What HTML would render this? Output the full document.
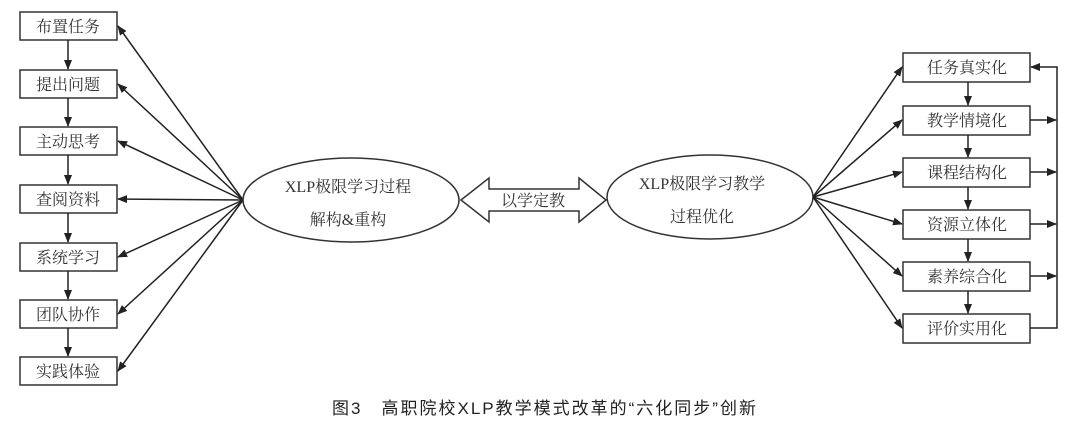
<!DOCTYPE html>
<html><head><meta charset="utf-8"><style>
html,body{margin:0;padding:0;background:#fff;}
svg{display:block;}
text{font-family:"Liberation Serif","Noto Serif CJK SC",serif;fill:#333;}
</style></head><body>
<svg width="1080" height="435" viewBox="0 0 1080 435" xmlns="http://www.w3.org/2000/svg">
<defs>
<marker id="a" markerWidth="10" markerHeight="8" refX="9" refY="4" orient="auto" markerUnits="userSpaceOnUse">
<path d="M0,0 L10,4 L0,8 z" fill="#222"/></marker>
</defs>
<g stroke="#333" stroke-width="1.5" fill="none">
<rect x="20" y="12" width="97" height="28" fill="#fff"/>
<rect x="20" y="70" width="97" height="28" fill="#fff"/>
<rect x="20" y="127" width="97" height="28" fill="#fff"/>
<rect x="20" y="185" width="97" height="28" fill="#fff"/>
<rect x="20" y="243" width="97" height="28" fill="#fff"/>
<rect x="20" y="300" width="97" height="28" fill="#fff"/>
<rect x="20" y="357" width="97" height="28" fill="#fff"/>
</g>
<g stroke="#222" stroke-width="1.5" fill="none">
<line x1="68" y1="40" x2="68" y2="69" marker-end="url(#a)"/>
<line x1="68" y1="98" x2="68" y2="126" marker-end="url(#a)"/>
<line x1="68" y1="155" x2="68" y2="184" marker-end="url(#a)"/>
<line x1="68" y1="213" x2="68" y2="242" marker-end="url(#a)"/>
<line x1="68" y1="271" x2="68" y2="299" marker-end="url(#a)"/>
<line x1="68" y1="328" x2="68" y2="356" marker-end="url(#a)"/>
<line x1="243" y1="200" x2="118" y2="26" marker-end="url(#a)"/>
<line x1="243" y1="200" x2="118" y2="84" marker-end="url(#a)"/>
<line x1="243" y1="200" x2="118" y2="141" marker-end="url(#a)"/>
<line x1="243" y1="200" x2="118" y2="199" marker-end="url(#a)"/>
<line x1="243" y1="200" x2="118" y2="257" marker-end="url(#a)"/>
<line x1="243" y1="200" x2="118" y2="314" marker-end="url(#a)"/>
<line x1="243" y1="200" x2="118" y2="371" marker-end="url(#a)"/>
</g>
<g font-size="16" text-anchor="middle">
<text x="68" y="32">布置任务</text>
<text x="68" y="90">提出问题</text>
<text x="68" y="147">主动思考</text>
<text x="68" y="205">查阅资料</text>
<text x="68" y="263">系统学习</text>
<text x="68" y="320">团队协作</text>
<text x="68" y="377">实践体验</text>
</g>
<ellipse cx="351" cy="200" rx="108" ry="42" fill="#fff" stroke="#333" stroke-width="1.5"/>
<ellipse cx="710" cy="197" rx="103" ry="42" fill="#fff" stroke="#333" stroke-width="1.5"/>
<g font-size="16" text-anchor="middle">
<text x="348" y="192">XLP极限学习过程</text>
<text x="348" y="225">解构&amp;重构</text>
<text x="702" y="189">XLP极限学习教学</text>
<text x="702" y="222">过程优化</text>
</g>
<path d="M461,200 L489,178 L489,189 L579,189 L579,178 L606,200 L579,222 L579,211 L489,211 L489,222 Z" fill="#fff" stroke="#333" stroke-width="1.5"/>
<text x="533" y="206" font-size="16" text-anchor="middle">以学定教</text>
<g stroke="#333" stroke-width="1.5" fill="#fff">
<rect x="903" y="53" width="127" height="29"/>
<rect x="903" y="106" width="127" height="29"/>
<rect x="903" y="158" width="127" height="29"/>
<rect x="903" y="210" width="127" height="29"/>
<rect x="903" y="262" width="127" height="29"/>
<rect x="903" y="314" width="127" height="29"/>
</g>
<g stroke="#222" stroke-width="1.5" fill="none">
<line x1="968" y1="82" x2="968" y2="105" marker-end="url(#a)"/>
<line x1="968" y1="135" x2="968" y2="157" marker-end="url(#a)"/>
<line x1="968" y1="187" x2="968" y2="209" marker-end="url(#a)"/>
<line x1="968" y1="239" x2="968" y2="261" marker-end="url(#a)"/>
<line x1="968" y1="291" x2="968" y2="313" marker-end="url(#a)"/>
<line x1="813" y1="197" x2="902" y2="67" marker-end="url(#a)"/>
<line x1="813" y1="197" x2="902" y2="120" marker-end="url(#a)"/>
<line x1="813" y1="197" x2="902" y2="172" marker-end="url(#a)"/>
<line x1="813" y1="197" x2="902" y2="224" marker-end="url(#a)"/>
<line x1="813" y1="197" x2="902" y2="276" marker-end="url(#a)"/>
<line x1="813" y1="197" x2="902" y2="328" marker-end="url(#a)"/>
<line x1="1030" y1="120" x2="1056" y2="120" marker-end="url(#a)"/>
<line x1="1030" y1="172" x2="1056" y2="172" marker-end="url(#a)"/>
<line x1="1030" y1="224" x2="1056" y2="224" marker-end="url(#a)"/>
<line x1="1030" y1="276" x2="1056" y2="276" marker-end="url(#a)"/>
<polyline points="1030,328 1057,328 1057,67 1031,67" marker-end="url(#a)"/>
</g>
<g font-size="16" text-anchor="middle">
<text x="967" y="73">任务真实化</text>
<text x="967" y="126">教学情境化</text>
<text x="967" y="178">课程结构化</text>
<text x="967" y="230">资源立体化</text>
<text x="967" y="282">素养综合化</text>
<text x="967" y="334">评价实用化</text>
</g>
<text x="545" y="414" font-size="17" letter-spacing="2" text-anchor="middle" style="font-family:'Liberation Sans','Noto Sans CJK SC',sans-serif;fill:#222;">图3　高职院校XLP教学模式改革的“六化同步”创新</text>
</svg>
</body></html>
